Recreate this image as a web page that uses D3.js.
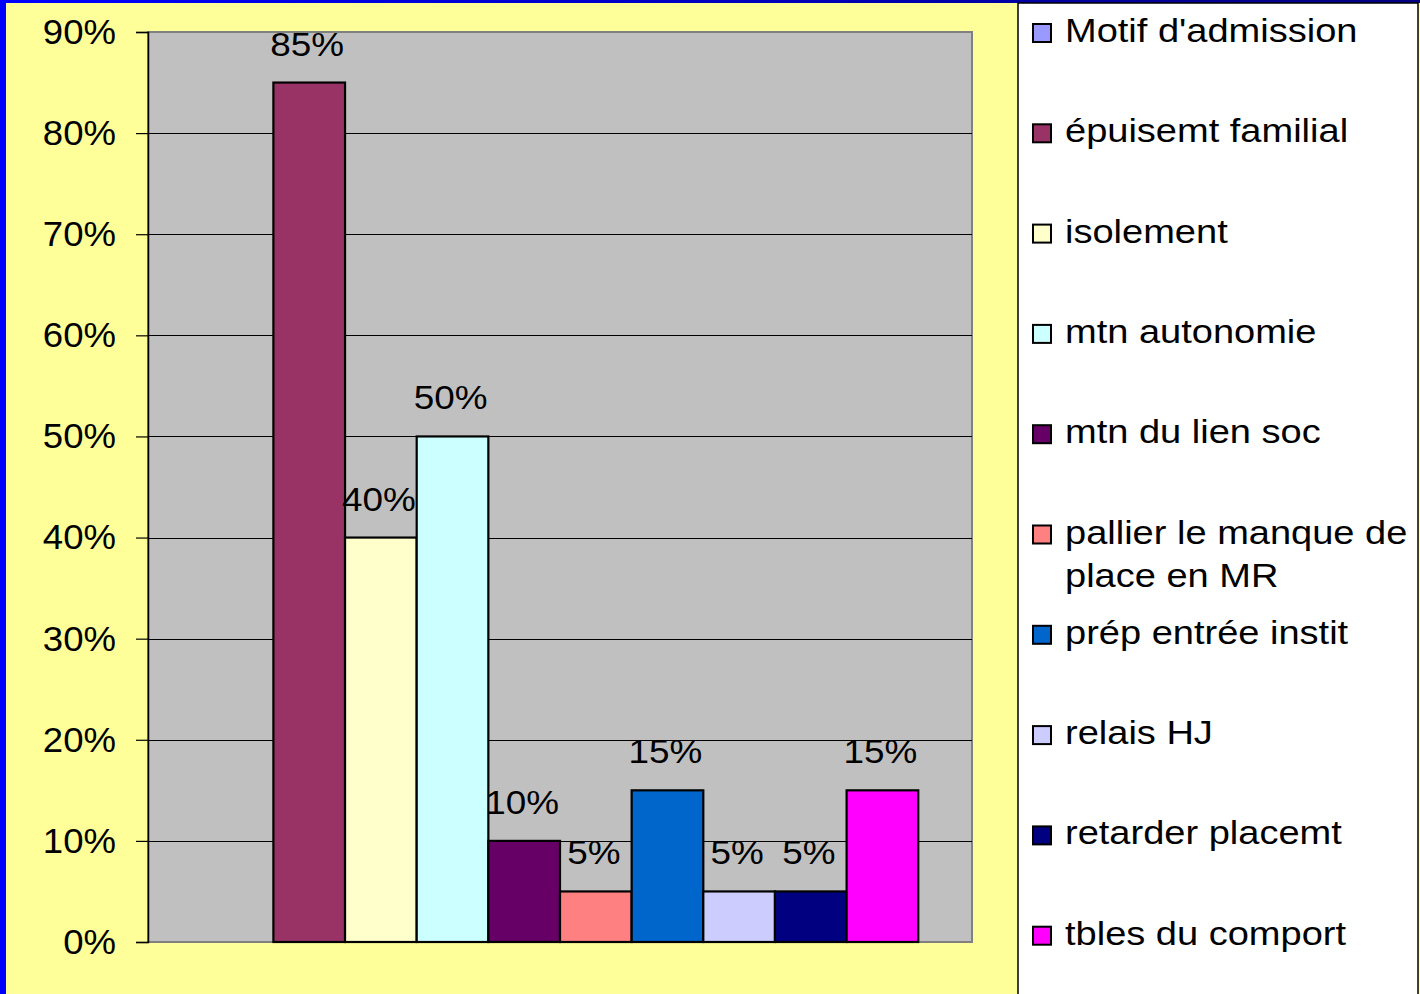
<!DOCTYPE html>
<html>
<head>
<meta charset="utf-8">
<script src="https://cdn.jsdelivr.net/npm/d3@7"></script>
<style>
  html, body { margin: 0; padding: 0; background: #FFFF99; }
  svg { display: block; }
  text { font-family: "Liberation Sans", Arial, sans-serif; fill: #000; }
</style>
</head>
<body>
<svg id="chart" width="1420" height="994"></svg>
<script>
// Motifs d'admission, share of cases per reason
const series = [
  "Motif d'admission",
  "épuisemt familial",
  "isolement",
  "mtn autonomie",
  "mtn du lien soc",
  "pallier le manque de place en MR",
  "prép entrée instit",
  "relais HJ",
  "retarder placemt",
  "tbles du comport"
];
const values = [null, 0.85, 0.40, 0.50, 0.10, 0.05, 0.15, 0.05, 0.05, 0.15];
const colors = [
  "#9999FF", "#993366", "#FFFFCC", "#CCFFFF", "#660066",
  "#FF8080", "#0066CC", "#CCCCFF", "#000080", "#FF00FF"
];
const yTicks = [0, 0.1, 0.2, 0.3, 0.4, 0.5, 0.6, 0.7, 0.8, 0.9];

const W = 1420, H = 994;
const plot = { left: 148, right: 972, top: 32, bottom: 942 };
const svg = d3.select("#chart");
const pct = d3.format(".0%");

// page background and frame
svg.append("rect").attr("width", W).attr("height", H).attr("fill", "#FFFF99");
const defs = svg.append("defs");
const grad = defs.append("linearGradient").attr("id", "topband").attr("x1", 0).attr("x2", 1);
grad.append("stop").attr("offset", 0).attr("stop-color", "#0000FF");
grad.append("stop").attr("offset", 1).attr("stop-color", "#000080");
svg.append("rect").attr("x", 0).attr("y", 0).attr("width", W).attr("height", 3).attr("fill", "url(#topband)");
svg.append("rect").attr("x", 0).attr("y", 0).attr("width", 6).attr("height", H).attr("fill", "#0000FF");

// scales: one category, ten clustered series with Excel-style gap
const barW = (plot.right - plot.left) / 11.5;
const x = d3.scaleBand()
  .domain(series)
  .range([plot.left + 0.75 * barW, plot.right - 0.75 * barW])
  .padding(0);
const y = d3.scaleLinear().domain([0, 0.9]).range([plot.bottom, plot.top]);

// plot area
svg.append("rect")
  .attr("x", plot.left).attr("y", plot.top)
  .attr("width", plot.right - plot.left).attr("height", plot.bottom - plot.top)
  .attr("fill", "#C0C0C0").attr("stroke", "#808080").attr("stroke-width", 2);

// horizontal gridlines
svg.append("g").selectAll("line")
  .data(yTicks.filter(t => t > 0 && t < 0.9))
  .join("line")
  .attr("x1", plot.left).attr("x2", plot.right)
  .attr("y1", d => Math.round(y(d)) + 0.5).attr("y2", d => Math.round(y(d)) + 0.5)
  .attr("stroke", "#000").attr("stroke-width", 1);

// bars
const data = series.map((s, i) => ({ s, v: values[i], c: colors[i] })).filter(d => d.v != null);
svg.append("g").selectAll("rect")
  .data(data)
  .join("rect")
  .attr("x", d => x(d.s))
  .attr("y", d => y(d.v))
  .attr("width", x.bandwidth())
  .attr("height", d => y(0) - y(d.v))
  .attr("fill", d => d.c)
  .attr("stroke", "#000").attr("stroke-width", 2.2);

// value labels
svg.append("g").selectAll("text")
  .data(data)
  .join("text")
  .attr("transform", d => `translate(${x(d.s) + x.bandwidth() / 2 - 2},${y(d.v) - 27}) scale(1.1,1)`)
  .attr("text-anchor", "middle")
  .attr("font-size", 33.5)
  .text(d => pct(d.v));

// y axis
const yAxis = svg.append("g")
  .attr("transform", `translate(${plot.left},0)`)
  .call(d3.axisLeft(y).tickValues(yTicks).tickFormat(pct).tickSize(12).tickPadding(20));
yAxis.select(".domain").attr("stroke", "#000").attr("stroke-width", 1.5);
yAxis.selectAll(".tick line").attr("stroke", "#000").attr("stroke-width", 1.2);
yAxis.selectAll(".tick text")
  .attr("x", null)
  .attr("transform", "translate(-32,-1) scale(1.06,1)")
  .attr("dy", "0.36em")
  .attr("font-size", 34.5)
  .attr("font-family", "'Liberation Sans', Arial, sans-serif")
  .attr("fill", "#000");

// legend
const leg = { x: 1018, right: 1418, first: 33, step: 100.3 };
svg.append("rect")
  .attr("x", leg.x).attr("y", 3)
  .attr("width", leg.right - leg.x).attr("height", H)
  .attr("fill", "#FFFFFF").attr("stroke", "#000").attr("stroke-width", 1.5);

const legFont = 32.5, legScale = 1.17, legMax = 1412 - 1066;
const items = svg.append("g").selectAll("g")
  .data(series.map((s, i) => ({ s, c: colors[i], i })))
  .join("g")
  .attr("transform", d => `translate(0,${leg.first + d.i * leg.step})`);

items.append("rect")
  .attr("x", 1033).attr("y", -9)
  .attr("width", 18).attr("height", 18)
  .attr("fill", d => d.c).attr("stroke", "#000").attr("stroke-width", 2);

items.each(function(d) {
  const g = d3.select(this).append("g").attr("transform", `translate(1065,9) scale(${legScale},1)`);
  const t = g.append("text").attr("font-size", legFont);
  const words = d.s.split(" ");
  let line = [];
  let ts = t.append("tspan").attr("x", 0).attr("dy", 0);
  words.forEach(w => {
    line.push(w);
    ts.text(line.join(" "));
    if (ts.node().getComputedTextLength() * legScale > legMax && line.length > 1) {
      line.pop();
      ts.text(line.join(" "));
      line = [w];
      ts = t.append("tspan").attr("x", 0).attr("dy", 44).text(w);
    }
  });
});
</script>
</body>
</html>
